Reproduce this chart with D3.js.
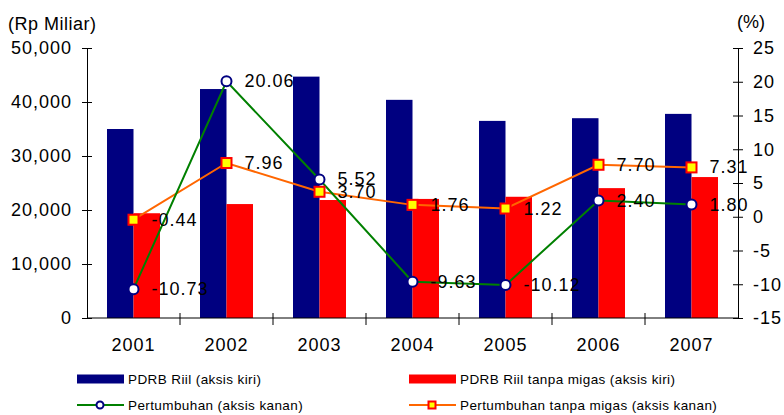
<!DOCTYPE html>
<html>
<head>
<meta charset="utf-8">
<script src="https://cdn.jsdelivr.net/npm/d3@7"></script>
<style>
  body { margin: 0; background: #fff; }
  text { font-family: "Liberation Sans", Arial, sans-serif; fill: #000; }
</style>
</head>
<body>
<svg id="chart" width="784" height="415"></svg>
<script>
// data
const years = ['2001', '2002', '2003', '2004', '2005', '2006', '2007'];
const pdrbRiil = [35000, 42400, 44700, 40400, 36500, 37000, 37800];
const pdrbTanpaMigas = [19400, 21100, 21850, 22050, 22450, 24050, 26100];
const pertumbuhan = [-10.73, 20.06, 5.52, -9.63, -10.12, 2.40, 1.80];
const pertumbuhanTanpaMigas = [-0.44, 7.96, 3.70, 1.76, 1.22, 7.70, 7.31];
const leftTicks = [0, 10000, 20000, 30000, 40000, 50000];
const rightTicks = [-15, -10, -5, 0, 5, 10, 15, 20, 25];

const svg = d3.select('#chart');
const plotL = 87, plotR = 738, plotT = 48, plotB = 318;

const x = d3.scaleBand().domain(years).range([plotL, plotR]);
const yL = d3.scaleLinear().domain([0, 50000]).range([plotB, plotT]);
const yR = d3.scaleLinear().domain([-15, 25]).range([plotB, plotT]);
const barW = 26.5;
const cx = d => x(d) + x.bandwidth() / 2;

// bars
svg.append('g').selectAll('rect').data(years).join('rect')
    .attr('x', d => cx(d) - barW)
    .attr('y', (d, i) => yL(pdrbRiil[i]))
    .attr('width', barW)
    .attr('height', (d, i) => plotB - yL(pdrbRiil[i]))
    .attr('fill', '#000080');

svg.append('g').selectAll('rect').data(years).join('rect')
    .attr('x', d => cx(d))
    .attr('y', (d, i) => yL(pdrbTanpaMigas[i]))
    .attr('width', barW)
    .attr('height', (d, i) => plotB - yL(pdrbTanpaMigas[i]))
    .attr('fill', '#ff0000');

// axes
const axisFont = g => g.selectAll('text')
    .style('font-size', '18px').style('letter-spacing', '1px')
    .style('font-family', '"Liberation Sans", Arial, sans-serif').attr('fill', '#000');

const gl = svg.append('g').attr('transform', `translate(${plotL},0)`)
    .call(d3.axisLeft(yL).tickValues(leftTicks).tickFormat(d3.format(',')).tickSizeOuter(0).tickSizeInner(5).tickPadding(10));
gl.selectAll('.tick line').attr('x2', 5).attr('x1', -5);
gl.call(axisFont);

const gr = svg.append('g').attr('transform', `translate(${plotR},0)`)
    .call(d3.axisRight(yR).tickValues(rightTicks).tickFormat(d => d).tickSizeOuter(0).tickSizeInner(5).tickPadding(10));
gr.selectAll('.tick line').attr('x1', -5).attr('x2', 5);
gr.selectAll('.tick text').text(d => d < 0 ? '-' + Math.abs(d) : d);
gr.call(axisFont);

const gb = svg.append('g').attr('transform', `translate(0,${plotB})`)
    .call(d3.axisBottom(x).tickSize(0).tickPadding(20));
gb.select('.domain').attr('d', `M${plotL},0H${plotR}`);
gb.call(axisFont);
// category separators
svg.append('g').selectAll('line').data(years.slice(1)).join('line')
    .attr('x1', d => x(d)).attr('x2', d => x(d))
    .attr('y1', plotB - 5).attr('y2', plotB + 7)
    .attr('stroke', '#000');
svg.selectAll('.domain').attr('stroke', '#000');

// unit labels
svg.append('text').attr('x', 8).attr('y', 24).attr('dominant-baseline', 'central')
    .style('font-size', '18px').style('letter-spacing', '0.5px').text('(Rp Miliar)');
svg.append('text').attr('x', 737).attr('y', 22).attr('dominant-baseline', 'central')
    .style('font-size', '18px').text('(%)');

// lines
const line = yv => d3.line().x((d, i) => cx(years[i])).y(d => yv(d));
svg.append('path').datum(pertumbuhanTanpaMigas).attr('d', line(yR))
    .attr('fill', 'none').attr('stroke', '#ff6600').attr('stroke-width', 2);
svg.append('path').datum(pertumbuhan).attr('d', line(yR))
    .attr('fill', 'none').attr('stroke', '#008000').attr('stroke-width', 2);

svg.append('g').selectAll('rect').data(pertumbuhanTanpaMigas).join('rect')
    .attr('x', (d, i) => cx(years[i]) - 5).attr('y', d => yR(d) - 5)
    .attr('width', 10).attr('height', 10)
    .attr('fill', '#ffff00').attr('stroke', '#ff0000').attr('stroke-width', 2);
svg.append('g').selectAll('circle').data(pertumbuhan).join('circle')
    .attr('cx', (d, i) => cx(years[i])).attr('cy', d => yR(d)).attr('r', 5)
    .attr('fill', '#fff').attr('stroke', '#000080').attr('stroke-width', 2);

// value labels
const fmt = d3.format('.2f');
const labels = (vals) => svg.append('g').selectAll('text').data(vals).join('text')
    .attr('x', (d, i) => cx(years[i]) + 18)
    .attr('y', d => yR(d))
    .attr('dominant-baseline', 'central')
    .style('font-size', '18px').style('letter-spacing', '1px')
    .text(d => d < 0 ? '-' + fmt(Math.abs(d)) : fmt(d));
labels(pertumbuhan);
labels(pertumbuhanTanpaMigas);

// legend
const legend = svg.append('g').style('font-size', '13.5px');
const lgItems = [
    {label: 'PDRB Riil (aksis kiri)', type: 'bar', color: '#000080', x: 77, y: 379},
    {label: 'PDRB Riil tanpa migas (aksis kiri)', type: 'bar', color: '#ff0000', x: 409, y: 379},
    {label: 'Pertumbuhan (aksis kanan)', type: 'circle', color: '#008000', x: 77, y: 405},
    {label: 'Pertumbuhan tanpa migas (aksis kanan)', type: 'square', color: '#ff6600', x: 409, y: 405}
];
lgItems.forEach(it => {
    const g = legend.append('g').attr('transform', `translate(${it.x},${it.y})`);
    if (it.type === 'bar') {
        g.append('rect').attr('x', 0).attr('y', -4.5).attr('width', 47).attr('height', 9).attr('fill', it.color);
    } else {
        g.append('line').attr('x1', 0).attr('x2', 47).attr('stroke', it.color).attr('stroke-width', 2);
        if (it.type === 'circle') {
            g.append('circle').attr('cx', 23).attr('r', 3.5).attr('fill', '#fff').attr('stroke', '#000080').attr('stroke-width', 2);
        } else {
            g.append('rect').attr('x', 19.5).attr('y', -3.5).attr('width', 7).attr('height', 7)
                .attr('fill', '#ffff00').attr('stroke', '#ff0000').attr('stroke-width', 2);
        }
    }
    g.append('text').attr('x', 51).attr('dominant-baseline', 'central').style('letter-spacing', '0.4px').text(it.label);
});
</script>
</body>
</html>
